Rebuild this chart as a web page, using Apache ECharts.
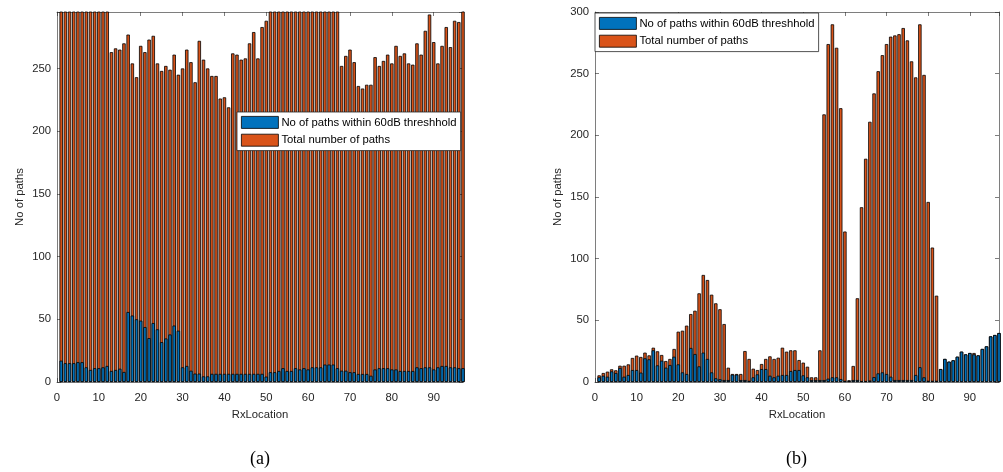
<!DOCTYPE html>
<html>
<head>
<meta charset="utf-8">
<script src="https://cdn.jsdelivr.net/npm/echarts@6/dist/echarts.min.js"></script>
<style>
  html, body { margin: 0; padding: 0; background: #fff; }
  #chart { width: 1003px; height: 472px; }
</style>
</head>
<body>
<div id="chart"></div>
<script>
// Receiver locations 1..97
const rxLocation = Array.from({ length: 97 }, (_, i) => i + 1);

// (a) paths per receiver location
const totalPathsA = [
  320, 320, 320, 320, 320, 320, 320, 320, 320, 320,
  320, 320, 263, 266, 265, 270, 277, 254, 243, 268,
  263, 273, 276, 254, 248, 252, 249, 261, 245, 250,
  265, 255, 239, 272, 257, 250, 244, 244, 226, 227,
  219, 262, 261, 257, 258, 270, 279, 258, 283, 288,
  320, 320, 320, 320, 320, 320, 320, 320, 320, 320,
  320, 320, 320, 320, 320, 320, 320, 252, 260, 265,
  255, 236, 234, 237, 237, 259, 252, 256, 261, 254,
  268, 260, 262, 254, 253, 270, 261, 280, 293, 271,
  254, 268, 283, 267, 288, 287, 320
];
const withinPathsA = [
  17, 15, 15, 15, 15.8, 15.8, 11.7, 9.6, 11, 11,
  11.7, 12.8, 8.8, 9.6, 10.6, 8, 55.8, 53, 50, 48.9,
  43.8, 35, 47, 42, 31.8, 34.7, 37.9, 45, 40.9, 11.7,
  12.8, 9, 6.7, 6.7, 4.5, 4.5, 6.5, 6.5, 6.5, 6.5,
  6.5, 6.5, 6.5, 6.5, 6.5, 6.5, 6.5, 6.5, 6.5, 4.3,
  7.8, 7.8, 8.8, 11, 8.8, 8.8, 11, 10, 11, 10,
  11.7, 11.7, 11.7, 13.9, 13.9, 13.9, 11, 9, 9, 7.8,
  7.8, 6.4, 6.4, 6.4, 5, 10, 11, 11, 11, 10,
  10, 8.8, 8.8, 8.8, 8.8, 11.7, 11, 11.7, 11.7, 10,
  11.7, 12.8, 12.8, 11.7, 11.7, 11, 11
];

// (b) paths per receiver location
const totalPathsB = [
  5.4, 7.3, 8.4, 10.3, 9.5, 13.2, 13.2, 14.3, 19.5, 21.4,
  20.3, 23.8, 21.6, 27.8, 24.9, 21.9, 17, 18.7, 26.8, 40.8,
  41.6, 45.7, 55.1, 57.8, 71.9, 86.8, 82.7, 70.8, 63.8, 59,
  47, 11.6, 6.5, 6.5, 6.5, 25.1, 18.7, 10.8, 9.7, 14.6,
  18.7, 20.8, 18.7, 19.7, 27.8, 24.6, 25.7, 25.7, 17.8, 15.7,
  12.4, 3.8, 3.8, 25.7, 217, 274, 290, 271, 222, 122,
  1.4, 13, 67.9, 141.7, 181, 211, 234, 252, 265, 274,
  280, 281, 282, 287, 277, 260, 247, 290, 249, 146,
  109, 70, 10.5, 18.7, 16.5, 17.6, 20.5, 24.6, 22.4, 23.5,
  23.5, 21.6, 26.8, 28.9, 37, 38.1, 39.7
];
const withinPathsB = [
  3.8, 5.1, 4.3, 8.6, 7.3, 11.4, 4.3, 5.7, 9.7, 9.7,
  7.6, 19.2, 18.4, 25.7, 13.5, 17.3, 11.6, 13.8, 20.5, 14.3,
  7.8, 6.5, 27.6, 22.7, 12.7, 23.8, 18.7, 7.8, 3, 2.2,
  1.6, 1.6, 6, 6, 1.6, 1.6, 1, 3.8, 6.2, 10.5,
  10.5, 5.1, 3.8, 5.1, 5.7, 5.7, 8.9, 9.7, 9.7, 5.4,
  3.8, 1.6, 1.6, 1.6, 1.6, 2.7, 3.8, 3.8, 2.4, 1,
  1, 1.6, 1.6, 0.8, 0.8, 1.2, 4, 7, 7.8, 6.5,
  4.3, 1.6, 1.6, 1.6, 1.6, 1.6, 5.7, 12, 3.8, 1,
  1, 1, 10.5, 18.7, 16.5, 17.6, 20.5, 24.6, 22.4, 23.5,
  22.4, 21.6, 26.8, 28.9, 37, 38.1, 39.7
];

const xTickStep = 10;
const yTickStep = 50;
const nameWithin = 'No of paths within 60dB threshhold';
const nameTotal = 'Total number of paths';

const BLUE = '#0072BD';
const ORANGE = '#D95319';
const AXIS = '#262626';
const FONT = '"Liberation Sans", Arial, Helvetica, sans-serif';
const FS = 11.3;

const pairs = (vals) => vals.map((v, i) => [rxLocation[i], v]);

function bottomX(grid) {
  return {
    gridIndex: grid, type: 'value', position: 'bottom', min: 0, max: 97, interval: xTickStep,
    name: 'RxLocation', nameLocation: 'middle', nameGap: 27,
    nameTextStyle: { color: AXIS, fontSize: FS, fontFamily: FONT },
    axisLine: { show: true, onZero: false, lineStyle: { color: AXIS, width: 0.6 } },
    axisTick: { show: true, inside: true, length: 4, lineStyle: { color: AXIS, width: 0.6 } },
    axisLabel: { color: AXIS, fontSize: FS, fontFamily: FONT, margin: 10,
      formatter: v => (v % xTickStep === 0 ? String(v) : '') },
    splitLine: { show: false }
  };
}
function topX(grid) {
  return {
    gridIndex: grid, type: 'value', position: 'top', min: 0, max: 97, interval: xTickStep,
    axisLine: { show: true, onZero: false, lineStyle: { color: AXIS, width: 0.6 } },
    axisTick: { show: true, inside: true, length: 4, lineStyle: { color: AXIS, width: 0.6 } },
    axisLabel: { show: false }, splitLine: { show: false }
  };
}
function leftY(grid, max) {
  return {
    gridIndex: grid, type: 'value', position: 'left', min: 0, max: max, interval: yTickStep,
    name: 'No of paths', nameLocation: 'middle', nameGap: 32,
    nameTextStyle: { color: AXIS, fontSize: FS, fontFamily: FONT },
    axisLine: { show: true, onZero: false, lineStyle: { color: AXIS, width: 0.6 } },
    axisTick: { show: true, inside: true, length: 4, lineStyle: { color: AXIS, width: 0.6 } },
    axisLabel: { color: AXIS, fontSize: FS, fontFamily: FONT, margin: 6,
      formatter: v => (v % yTickStep === 0 ? String(v) : '') },
    splitLine: { show: false }
  };
}
function rightY(grid, max) {
  return {
    gridIndex: grid, type: 'value', position: 'right', min: 0, max: max, interval: yTickStep,
    axisLine: { show: true, onZero: false, lineStyle: { color: AXIS, width: 0.6 } },
    axisTick: { show: true, inside: true, length: 4, lineStyle: { color: AXIS, width: 0.6 } },
    axisLabel: { show: false }, splitLine: { show: false }
  };
}
function barSeries(name, color, vals, axisIdx) {
  return {
    name: name, type: 'bar', xAxisIndex: axisIdx, yAxisIndex: axisIdx,
    data: pairs(vals), barWidth: 3.4, barGap: '-100%', clip: true,
    itemStyle: { color: color, borderColor: '#000', borderWidth: 0.8 },
    emphasis: { disabled: true }, animation: false
  };
}
function legendAt(left, top) {
  return {
    data: [nameWithin, nameTotal], orient: 'vertical', left: left, top: top,
    padding: [4, 4, 4, 4], itemGap: 5, itemWidth: 37, itemHeight: 12,
    icon: 'rect', backgroundColor: '#fff', borderColor: AXIS, borderWidth: 0.8,
    itemStyle: { borderColor: '#000', borderWidth: 0.8 },
    textStyle: { color: '#000', fontSize: FS, fontFamily: FONT, padding: [0, 0, 0, -2] },
    selectedMode: false
  };
}

const chart = echarts.init(document.getElementById('chart'), null, { renderer: 'canvas' });
chart.setOption({
  backgroundColor: '#fff',
  animation: false,
  grid: [
    { left: 57, top: 12, width: 406, height: 370 },
    { left: 595, top: 12, width: 404, height: 370 }
  ],
  xAxis: [bottomX(0), topX(0), bottomX(1), topX(1)],
  yAxis: [leftY(0, 295), rightY(0, 295), leftY(1, 300), rightY(1, 300)],
  legend: [legendAt(237, 112), legendAt(595, 13)],
  series: [
    barSeries(nameTotal, ORANGE, totalPathsA, 0),
    barSeries(nameWithin, BLUE, withinPathsA, 0),
    barSeries(nameTotal, ORANGE, totalPathsB, 2),
    barSeries(nameWithin, BLUE, withinPathsB, 2)
  ],
  graphic: [
    { type: 'text', left: 250, top: 450,
      style: { text: '(a)', fill: '#000', font: '18px "Liberation Serif", "Times New Roman", serif' } },
    { type: 'text', left: 786, top: 450,
      style: { text: '(b)', fill: '#000', font: '18px "Liberation Serif", "Times New Roman", serif' } }
  ]
});
</script>
</body>
</html>
